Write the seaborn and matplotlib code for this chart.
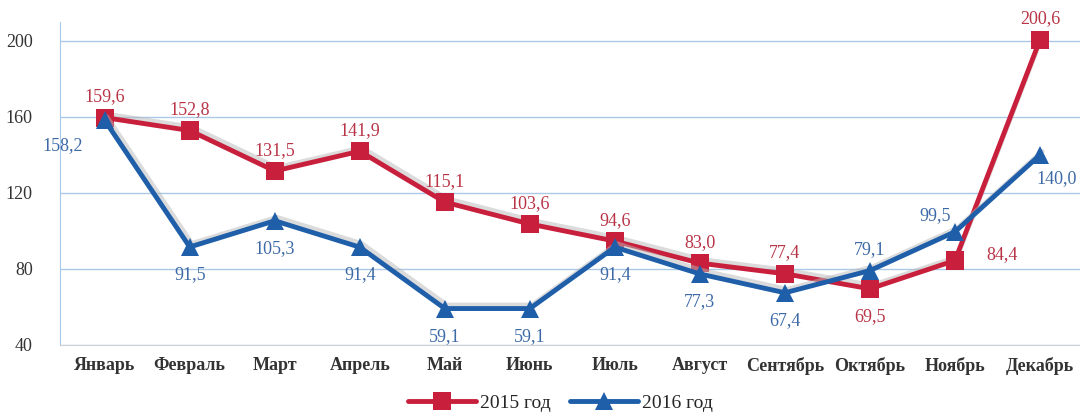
import pandas as pd
import numpy as np
import matplotlib
matplotlib.use('Agg')
import matplotlib.pyplot as plt
import matplotlib.patheffects as pe
import seaborn as sns

# =========================
# DATA
# =========================

months = ['Январь', 'Февраль', 'Март', 'Апрель', 'Май', 'Июнь',
          'Июль', 'Август', 'Сентябрь', 'Октябрь', 'Ноябрь', 'Декабрь']
values_2015 = [159.6, 152.8, 131.5, 141.9, 115.1, 103.6,
               94.6, 83.0, 77.4, 69.5, 84.4, 200.6]
values_2016 = [158.2, 91.5, 105.3, 91.4, 59.1, 59.1,
               91.4, 77.3, 67.4, 79.1, 99.5, 140.0]
series_names = ['2015 год', '2016 год']
y_ticks = [40, 80, 120, 160, 200]

# label offsets (points) for data labels
off_2015 = [(0, 15), (0, 15), (0, 15), (0, 15), (0, 15), (0, 15),
            (0, 15), (0, 15), (0, 15), (0, -20), (34, 4), (0, 15)]
off_2016 = [(-30, -18), (0, -20), (0, -20), (0, -20), (0, -20), (0, -20),
            (0, -20), (0, -20), (0, -20), (0, 15), (-14, 12), (12, -17)]

red = '#c8203c'
blue = '#1f5ea8'
red_txt = '#b83446'
blue_txt = '#3d6aa6'

df = pd.DataFrame({
    'month': months * 2,
    'value': values_2015 + values_2016,
    'series': [series_names[0]] * 12 + [series_names[1]] * 12,
})

# =========================
# PLOT
# =========================

sns.set_style('white')
plt.rcParams['font.family'] = ['Liberation Serif', 'DejaVu Serif']

fig = plt.figure(figsize=(10.8, 4.12), dpi=100)
ax = fig.add_axes([0.056, 0.163, 0.944, 0.784])

shadow = [pe.SimpleLineShadow(offset=(1.5, 2.5), shadow_color='#b8b8b8', alpha=0.5),
          pe.Normal()]

sns.lineplot(data=df, x='month', y='value', hue='series', style='series',
             palette=[red, blue], markers=['s', '^'], dashes=False,
             markersize=13, linewidth=3.5, markeredgewidth=0,
             ax=ax, sort=False)

for line in ax.get_lines():
    line.set_path_effects(shadow)

for i, (v, o) in enumerate(zip(values_2015, off_2015)):
    ax.annotate(f'{v:.1f}'.replace('.', ','), (i, v), xytext=o,
                textcoords='offset points', ha='center', va='center',
                fontsize=13, color=red_txt)
for i, (v, o) in enumerate(zip(values_2016, off_2016)):
    ax.annotate(f'{v:.1f}'.replace('.', ','), (i, v), xytext=o,
                textcoords='offset points', ha='center', va='center',
                fontsize=13, color=blue_txt)

ax.set_xlim(-0.52, 11.47)
ax.set_ylim(40, 210)
ax.set_yticks(y_ticks)
ax.yaxis.grid(True, color='#a9c9e6', linewidth=1)
ax.xaxis.grid(False)

ax.set_xlabel('')
ax.set_ylabel('')

for s in ['top', 'right']:
    ax.spines[s].set_visible(False)
ax.spines['left'].set_color('#a9c9e6')
ax.spines['bottom'].set_color('#d0d0d0')

ax.tick_params(axis='y', length=0, labelsize=13, colors='#333333', pad=20)
ax.tick_params(axis='x', length=0, labelsize=13, colors='#333333', pad=9)
for lbl in ax.get_xticklabels():
    lbl.set_fontweight('bold')

# small ticks between categories
ax.set_xticks(np.arange(0.5, 11.5, 1), minor=True)
ax.tick_params(axis='x', which='minor', length=5, direction='in', color='#c8c8c8')

handles, labels = ax.get_legend_handles_labels()
for h in handles:
    h.set_path_effects([])
ax.legend(handles, labels, loc='center', bbox_to_anchor=(0.49, -0.18),
          ncol=2, frameon=False, fontsize=14, handlelength=3.5,
          columnspacing=1.0, handletextpad=0.2, borderpad=0.1)

plt.savefig('out.png', dpi=100)
